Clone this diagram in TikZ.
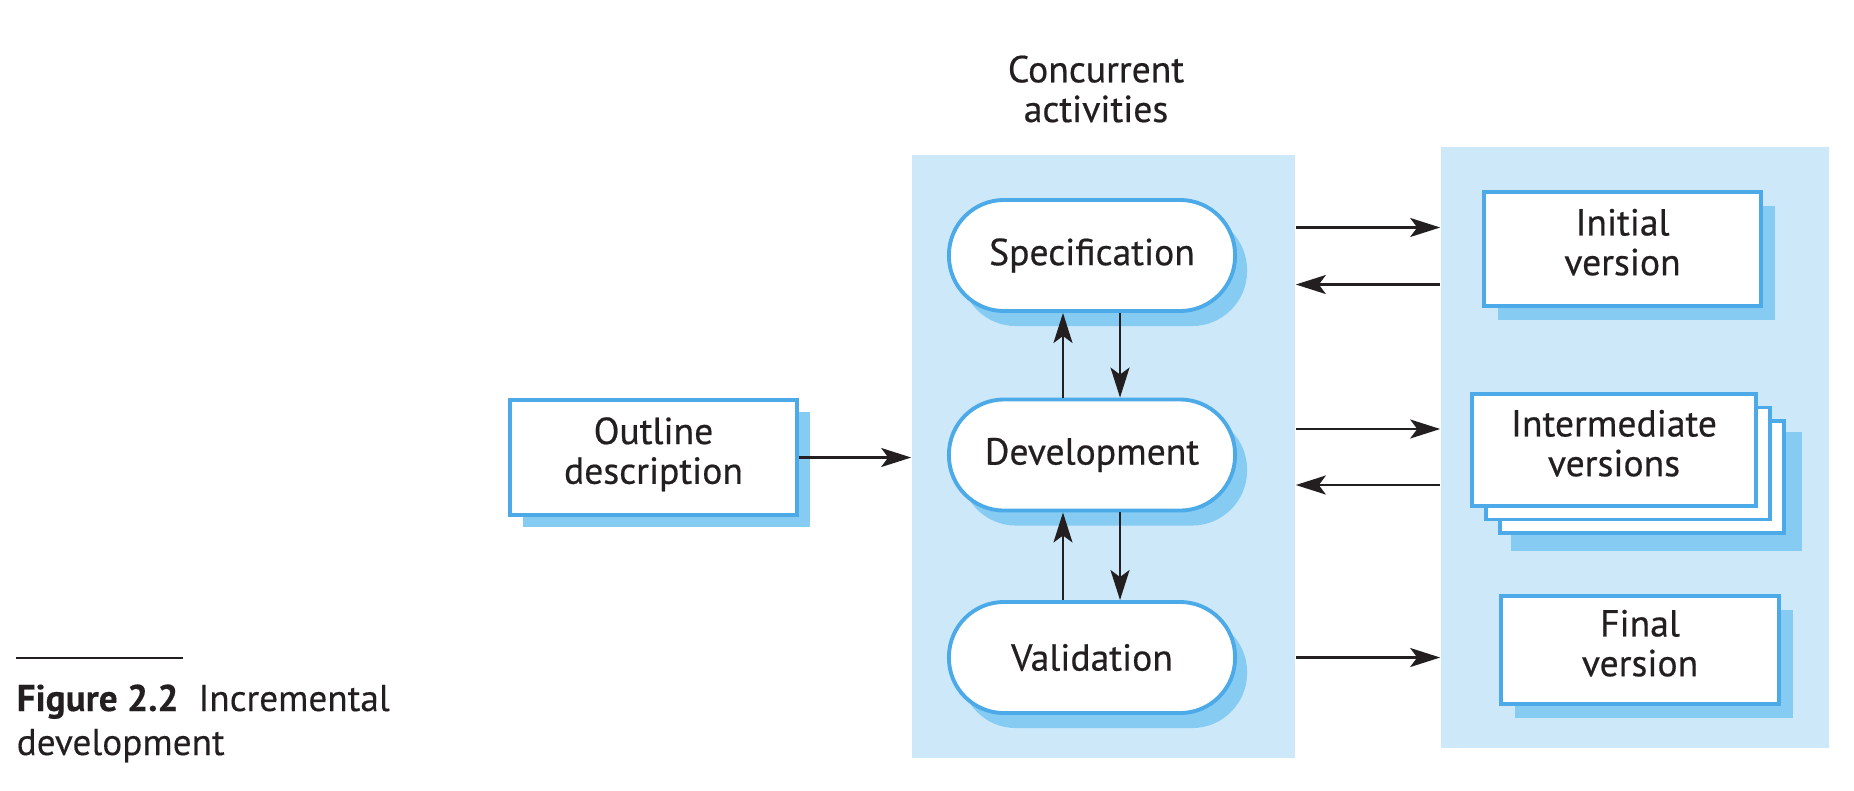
\documentclass[tikz,border=0pt]{standalone}
\usepackage{fontspec}
\setmainfont{PT Sans}
\usetikzlibrary{arrows.meta,shadows,calc}
\definecolor{panel}{RGB}{205,232,249}
\definecolor{bord}{RGB}{77,170,232}
\definecolor{shad}{RGB}{133,203,242}
\definecolor{ink}{RGB}{35,31,32}
\begin{document}
\begin{tikzpicture}[x=0.01cm,y=-0.01cm,
  every node/.style={text=ink},
  txt/.style={font=\fontsize{10.7}{11.3}\selectfont\addfontfeature{FakeBold=0.5}, align=center},
  panelbox/.style={fill=panel, draw=none, inner sep=0pt},
  activity/.style={txt, draw=bord, fill=white, line width=1.1pt, rounded corners=0.55cm,
     minimum width=2.86cm, minimum height=1.11cm, inner sep=0pt,
     general shadow={fill=shad, shadow xshift=0.12cm, shadow yshift=-0.15cm}},
  docbox/.style={txt, draw=bord, fill=white, line width=1.1pt, inner sep=0pt, text depth=0.14cm},
  shadowed/.style={general shadow={fill=shad, shadow xshift=0.14cm, shadow yshift=-0.14cm}},
  arr/.style={draw=ink, line width=0.6pt, -{Stealth[length=0.3cm,width=0.19cm,inset=0.07cm]}},
  captxt/.style={anchor=base west, inner sep=0pt, font=\fontsize{10.6}{12}\selectfont\addfontfeature{FakeBold=0.3}}
]
\useasboundingbox (0,0) rectangle (1854,790);
% panels
\node[panelbox, minimum width=3.83cm, minimum height=6.03cm] (A) at (1103.5,456.5) {};
\node[panelbox, minimum width=3.88cm, minimum height=6.01cm] (B) at (1635,447.5) {};
% title
\node[txt] (conc) at (1096,89) {Concurrent\\activities};
% activities
\node[activity] (spec) at (1092,255.5) {Specification};
\node[activity] (dev) at (1092,455) {Development};
\node[activity] (val) at (1092,657.5) {Validation};
% outline
\node[docbox, minimum width=2.87cm, minimum height=1.15cm,
   general shadow={fill=shad, shadow xshift=0.13cm, shadow yshift=-0.12cm}] (out) at (653.5,457.5) {Outline\\description};
% versions
\node[docbox, shadowed, minimum width=2.77cm, minimum height=1.14cm] (init) at (1622.5,249) {Initial\\version};
\fill[shad] (1511,432) rectangle (1802,551);
\node[docbox, minimum width=2.84cm, minimum height=1.12cm] (inter3) at (1642,477) {};
\node[docbox, minimum width=2.84cm, minimum height=1.12cm] (inter2) at (1628,463.5) {};
\node[docbox, minimum width=2.84cm, minimum height=1.12cm] (inter) at (1614,450) {Intermediate\\versions};
\node[docbox, shadowed, minimum width=2.78cm, minimum height=1.08cm] (final) at (1640,650) {Final\\version};
% arrows
\draw[arr] (out.east) -- (out.east -| A.west);
\coordinate (su) at ([yshift=0.28cm]spec.center);
\coordinate (sd) at ([yshift=-0.29cm]spec.center);
\coordinate (du) at ([yshift=0.26cm]dev.center);
\coordinate (dd) at ([yshift=-0.3cm]dev.center);
\draw[arr] (su -| A.east) -- (su -| B.west);
\draw[arr] (sd -| B.west) -- (sd -| A.east);
\draw[arr] (du -| A.east) -- (du -| B.west);
\draw[arr] (dd -| B.west) -- (dd -| A.east);
\draw[arr] (val.center -| A.east) -- (val.center -| B.west);
\coordinate (lx) at ([xshift=-0.29cm]spec.center);
\coordinate (rx) at ([xshift=0.28cm]spec.center);
\draw[arr] (lx |- dev.north) -- (lx |- spec.south);
\draw[arr] (rx |- spec.south) -- (rx |- dev.north);
\draw[arr] (lx |- val.north) -- (lx |- dev.south);
\draw[arr] (rx |- dev.south) -- (rx |- val.north);
% caption
\draw[ink, line width=0.4pt] (16,658) -- (183,658);
\node[captxt] (cap1) at (16,711) {\textbf{Figure 2.2}\ \ Incremental};
\node[captxt] (cap2) at (16,755) {development};
\end{tikzpicture}
\end{document}
